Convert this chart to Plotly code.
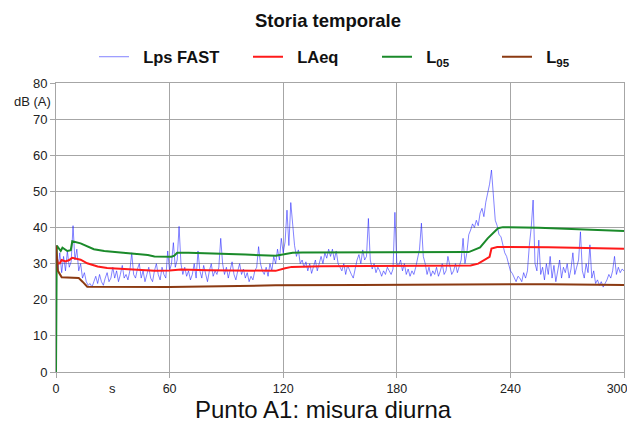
import plotly.graph_objects as go

# Time axis (s) for the fast level, 1 s resolution
t_fast = list(range(0, 301))
lps_fast = [
    35, 28, 33, 27.5, 32, 28, 33.5, 29, 30.5, 40.5,
    31, 34, 28, 30, 26, 27.5, 25, 24, 24.5, 23.5,
    25, 26.5, 24.5, 27, 25, 24, 26, 27.5, 25, 26,
    29, 26, 28, 25, 27, 29.5, 26, 27, 25.5, 28,
    33, 27, 26, 28.5, 30, 26, 28, 25, 27, 29,
    26, 25, 28, 30, 27, 25.5, 29, 27, 26, 33.5,
    28, 30, 35.8, 29, 31, 40.3, 30, 27, 29, 26.5,
    28, 25.5, 27, 30, 26, 33.5, 28, 26, 29.5, 27,
    25, 28, 30, 26.5, 28, 27, 29, 37, 30, 27,
    29, 26, 28, 30.5, 27, 25.5, 28, 30, 27, 28.5,
    26, 27.5, 25, 26.5, 25.5, 28, 29, 34.7, 30, 28,
    27, 29, 26.5, 30, 28, 32, 30, 34, 31, 37,
    33, 36, 44.8, 35, 46.9, 40, 35, 32, 33.8, 30,
    31, 29, 30.5, 28, 30, 27.3, 29, 31, 28, 30,
    32, 30, 33, 31.5, 34, 32, 34, 31, 33.5, 30,
    29, 28, 30, 27, 29.5, 28, 27, 26, 29, 31,
    32.5, 30, 33.8, 31, 32, 42.5, 31, 28.5, 30, 27.5,
    29, 28, 26.5, 28, 27, 29, 28, 27, 28.5, 44.2,
    30, 29.5, 31, 28, 30, 27, 28.5, 26.5, 28, 27,
    29, 31.5, 34, 41.2, 32, 30, 27, 29, 26.5, 28,
    27, 29, 26.5, 28, 30, 27, 28, 32, 29, 27,
    28, 30, 27.5, 29, 31, 37, 30, 33, 38, 39.3,
    41, 40, 42, 40.5, 44, 45.3, 43, 47, 49.5, 52,
    55.9, 49.5, 42, 40.5, 38, 37.5, 35, 33, 32, 29.5,
    28, 27.3, 26, 25, 26.5, 26, 25, 27.5, 26, 28,
    35, 40, 47.6, 30, 28, 36.5, 27, 29, 25.5, 30,
    27, 32, 26, 29.5, 25, 28, 31, 26, 29, 27.5,
    30, 26, 28.5, 33, 27, 29, 31, 38.8, 28, 26,
    30, 27.5, 35.2, 26, 28, 24.5, 25.5, 24, 25, 23.5,
    24.5, 25.5, 27, 26, 28, 32, 27, 29, 27.5, 28.5,
    28,
]

# LAeq (running)
t_laeq = [0, 1, 2, 3, 5, 7, 8.5, 10, 13, 16.5, 22, 27, 34, 52, 60, 66, 80, 100, 116, 121, 124.5, 140, 160, 200, 219, 223, 226, 229, 230, 233, 260, 300]
laeq = [33, 30, 30.1, 31, 30.6, 31, 31.6, 31.4, 31.1, 30.1, 29.2, 28.8, 28.6, 28.0, 28.1, 28.4, 28.2, 28.0, 28.0, 28.7, 29.1, 29.3, 29.4, 29.4, 29.5, 30.0, 31.0, 31.9, 34.2, 34.6, 34.5, 34.1]

# L05
t_l05 = [0, 0.4, 2.5, 3.4, 6, 7.8, 8.6, 13, 20, 25.5, 34, 48.5, 52, 55, 61, 62.5, 64, 70, 90, 100, 116, 125, 130, 150, 200, 218, 224, 228, 233.5, 236, 255, 300]
l05 = [0, 35, 33.5, 34.4, 33.5, 33.7, 36.2, 35.6, 34.0, 33.5, 33.1, 32.4, 32.0, 31.9, 31.9, 32.2, 33.0, 33.0, 32.8, 32.5, 32.2, 33.0, 33.1, 33.1, 33.1, 33.2, 34.5, 37.0, 39.8, 40.1, 39.9, 39.0]

# L95
t_l95 = [0, 1, 3, 10, 12, 14, 16.5, 60, 100, 116, 160, 208, 230, 260, 300]
l95 = [35, 28, 26.2, 26.2, 26.0, 25.0, 23.6, 23.5, 23.8, 24.0, 24.1, 24.2, 24.4, 24.3, 24.1]

series_names = ["Lps FAST", "LAeq", "L<sub>05</sub>", "L<sub>95</sub>"]
x_ticks = [0, 60, 120, 180, 240, 300]
x_tick_labels = ["0", "60", "120", "180", "240", "300"]
y_ticks = [0, 10, 20, 30, 40, 50, 60, 70, 80]

FONT = "Liberation Sans, Arial, sans-serif"
GRID = "#a6a6a6"

# page body has an 8 px margin: figure is drawn 8 px in from the window corner
W, H = 627, 415
L, R, T, B = 48, 11, 75, 51
PW, PH = W - L - R, H - T - B

colors = ["rgba(30,30,255,0.55)", "#ff1a1a", "#1a8a2a", "#8b3a12"]
widths = [1, 2, 2, 2]
xs = [t_fast, t_laeq, t_l05, t_l95]
ys = [lps_fast, laeq, l05, l95]
legend_ids = ["legend", "legend2", "legend3", "legend4"]
legend_left_px = [86, 240, 369, 489]  # figure px of each legend box

fig = go.Figure()
for i in range(4):
    fig.add_trace(go.Scatter(x=xs[i], y=ys[i], mode="lines",
                             name="\u00a0\u00a0<b>" + series_names[i] + "</b>",
                             legend=legend_ids[i],
                             line=dict(color=colors[i], width=widths[i])))

legend_style = dict(orientation="h", xanchor="left", y=(H - B - 49) / PH, yanchor="middle",
                    font=dict(size=16.5, family=FONT, color="#111"),
                    bgcolor="rgba(0,0,0,0)", itemwidth=30)

# last tick label padded so it stays inside the visible page
shown_x_labels = x_tick_labels[:-1] + [x_tick_labels[-1] + "\u00a0\u00a0\u00a0\u00a0"]

fig.update_layout(
    width=W, height=H,
    margin=dict(l=L, r=R, t=T, b=B, autoexpand=False),
    paper_bgcolor="white", plot_bgcolor="white",
    font=dict(family=FONT, color="#111111"),
    title=dict(text="<b>Storia temporale</b>", x=(328 - 8) / W, xanchor="center",
               y=1 - 13 / H, yanchor="middle", font=dict(size=18.5, family=FONT, color="#111")),
    showlegend=True,
    xaxis=dict(range=[0, 300], tickvals=x_ticks, ticktext=shown_x_labels,
               ticklabeloverflow="allow",
               showgrid=True, gridcolor=GRID, gridwidth=1,
               showline=True, linecolor=GRID, mirror=True,
               ticks="outside", ticklen=5, tickcolor=GRID,
               tickfont=dict(size=12.5, family=FONT, color="#222"), zeroline=False),
    yaxis=dict(range=[0, 80], tickvals=y_ticks,
               showgrid=True, gridcolor=GRID, gridwidth=1,
               showline=True, linecolor=GRID, mirror=True,
               ticks="outside", ticklen=5, tickcolor=GRID,
               tickfont=dict(size=13, family=FONT, color="#222"), zeroline=False),
)
for lid, lx in zip(legend_ids, legend_left_px):
    fig.update_layout({lid: dict(legend_style, x=(lx - L) / PW)})

fig.add_annotation(text="dB (A)", xref="paper", yref="paper", x=-0.005, y=0.935,
                   xanchor="right", yanchor="middle", showarrow=False,
                   font=dict(size=13, family=FONT, color="#222"))
fig.add_annotation(text="s", xref="x", yref="paper", x=30, y=0, yshift=-16,
                   xanchor="center", yanchor="middle", showarrow=False,
                   font=dict(size=13, family=FONT, color="#222"))
fig.add_annotation(text="Punto A1: misura diurna", xref="paper", yref="paper",
                   x=(323 - 8 - L) / PW, y=0, yshift=-37, xanchor="center", yanchor="middle",
                   showarrow=False, font=dict(size=24, family=FONT, color="#111"))

fig.write_html("out.html")
